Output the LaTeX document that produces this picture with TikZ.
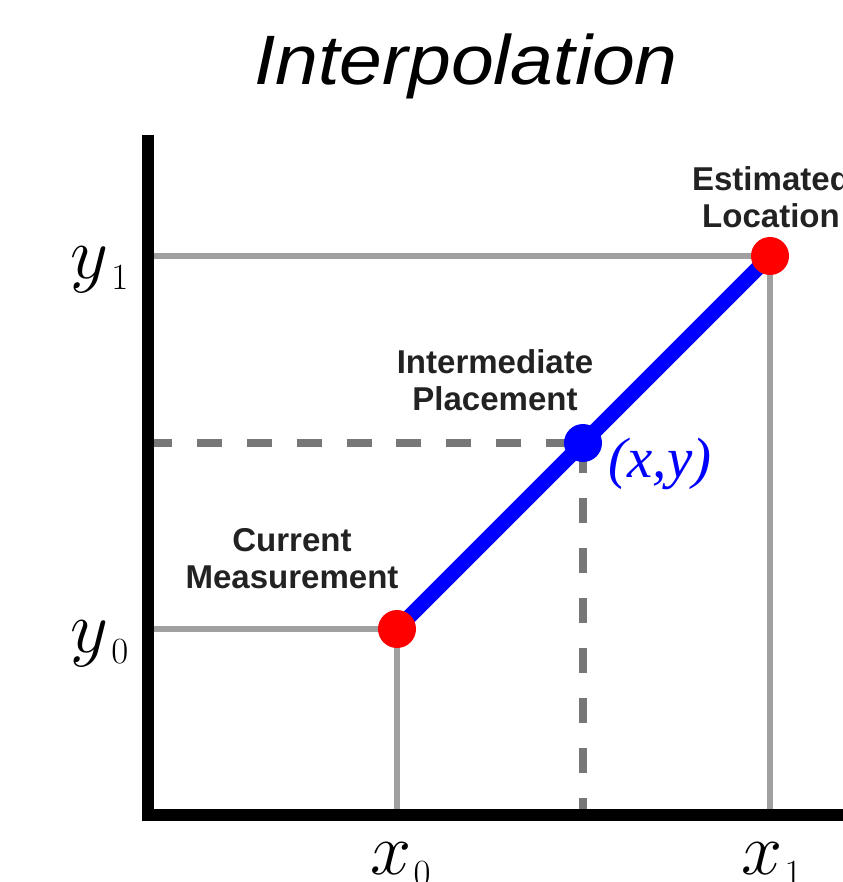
\RequirePackage{fix-cm}
\documentclass[tikz,border=0pt]{standalone}
\usepackage{fontspec}
\usepackage{tikz}
\usetikzlibrary{positioning}
\newfontfamily\titlefont{Liberation Sans}
\newfontfamily\labelfont{Liberation Sans}
\newfontfamily\pointfont{Liberation Serif}
\definecolor{guidegray}{HTML}{A0A0A0}
\definecolor{dashgray}{HTML}{777777}
\definecolor{labeltext}{HTML}{222222}

\begin{document}
\begin{tikzpicture}[
    x=0.02cm, y=-0.02cm,
    axis/.style={line width=6.8pt, line join=miter, line cap=butt},
    guide/.style={guidegray, line width=3.1pt},
    dashguide/.style={dashgray, line width=4pt, dash pattern=on 14.2pt off 14.2pt},
    curve/.style={blue, line width=8.5pt},
    dot/.style={circle, fill=#1, inner sep=0pt, minimum size=0.76cm},
    tag/.style={labeltext, align=center, inner sep=0pt,
      font=\labelfont\bfseries\fontsize{18.8}{21}\selectfont},
    mlabel/.style={anchor=base, inner sep=0pt, font=\fontsize{42}{42}\selectfont}
  ]
    \useasboundingbox (0,0) rectangle (842,882);

    \node[anchor=base, inner sep=0pt, xscale=1.1,
      font=\titlefont\itshape\fontsize{39.8}{40}\selectfont] (title) at (466,85) {Interpolation};

    \coordinate (O) at (148,815);
    \coordinate (P0) at (397,629);
    \coordinate (P1) at (770,256);
    \coordinate (Pm) at (583,443);

    % guide lines
    \draw[guide] (O |- P1) -- (P1) -- (P1 |- O);
    \draw[guide] (O |- P0) -- (P0) -- (P0 |- O);
    \draw[dashguide] (147,443) -- (Pm);
    \draw[dashguide, dash phase=4.3pt] (Pm |- O) -- (Pm);

    % axes
    \draw[axis] (148,135) -- (O) -- (850,815);

    \draw[curve] (P0) -- (P1);
    \node[dot=red] (cur) at (P0) {};
    \node[dot=red] (est) at (P1) {};
    \node[dot=blue] (mid) at (Pm) {};

    \node[tag] (curlbl) at (292,559) {Current\\Measurement};
    \node[tag] (midlbl) at (495,380) {Intermediate\\Placement};
    \node[tag] (estlbl) at (771,197) {Estimated\\Location};
    \node[blue, anchor=base, inner sep=0pt,
      font=\pointfont\itshape\fontsize{32.4}{33}\selectfont] (xy) at (660,477) {(x,y)};

    \node[mlabel] (ylbl1) at (100,278) {$y_{\kern3pt\scriptscriptstyle 1}$};
    \node[mlabel] (ylbl0) at (100,652) {$y_{\kern3pt\scriptscriptstyle 0}$};
    \node[mlabel] (xlbl0) at (401,874) {$x_{\kern1pt\scriptscriptstyle 0}$};
    \node[mlabel] (xlbl1) at (772,874) {$x_{\kern1pt\scriptscriptstyle 1}$};
  \end{tikzpicture}
\end{document}
